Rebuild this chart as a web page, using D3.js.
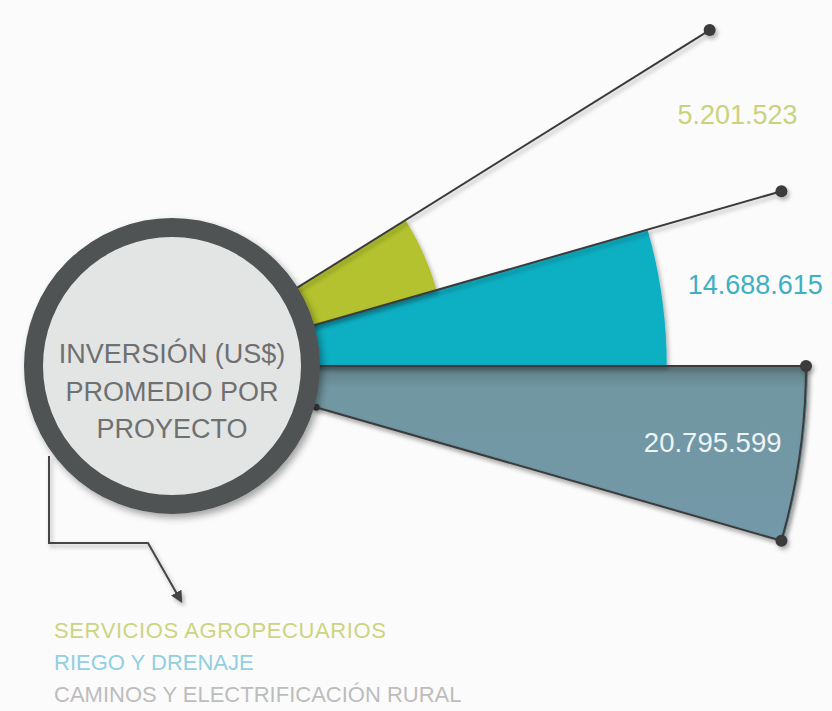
<!DOCTYPE html>
<html>
<head>
<meta charset="utf-8">
<script src="https://cdn.jsdelivr.net/npm/d3@7"></script>
<style>
  html, body { margin: 0; padding: 0; background: #fbfbfb; }
  svg { display: block; }
</style>
</head>
<body>
<svg id="chart" width="832" height="711"></svg>
<script>
// ---------------- data ----------------
const categories = ["SERVICIOS AGROPECUARIOS", "RIEGO Y DRENAJE", "CAMINOS Y ELECTRIFICACIÓN RURAL"];
const values = [5201523, 14688615, 20795599];
const valueLabels = ["5.201.523", "14.688.615", "20.795.599"];
const centerTitle = ["INVERSIÓN (US$)", "PROMEDIO POR", "PROYECTO"];

// ---------------- styles / layout ----------------
const wedgeColors = ["#b3c22f", "#10afc3", "#7298a6"];
const labelColors = ["#cbd27e", "#3db0c2", "#eef3f4"];
const legendColors = ["#cdd481", "#92cfe0", "#bdbdbd"];
const labelSizes = [27, 27, 27.5];
const labelRadii = [619, 589, 546];
const legendSpacing = [0.6, 0, 0];

const W = 832, H = 711;
const cx = 172, cy = 366;
const circleOuter = 148, ringWidth = 19;
const deg = Math.PI / 180;

const svg = d3.select("#chart");
svg.append("rect").attr("width", W).attr("height", H).attr("fill", "#fbfbfb");

const defs = svg.append("defs");
const sh = defs.append("filter").attr("id", "shadow")
  .attr("x", "-20%").attr("y", "-20%").attr("width", "140%").attr("height", "140%");
sh.append("feDropShadow").attr("dx", 3).attr("dy", 4).attr("stdDeviation", 3.5)
  .attr("flood-color", "#000").attr("flood-opacity", 0.35);
const shSoft = defs.append("filter").attr("id", "shadowSoft")
  .attr("x", "-20%").attr("y", "-20%").attr("width", "140%").attr("height", "140%");
shSoft.append("feDropShadow").attr("dx", 2).attr("dy", 3).attr("stdDeviation", 2)
  .attr("flood-color", "#000").attr("flood-opacity", 0.3);

const grad = defs.append("linearGradient").attr("id", "grayGrad")
  .attr("x1", 0).attr("y1", 0).attr("x2", 0).attr("y2", 1);
grad.append("stop").attr("offset", "0%").attr("stop-color", "#5e7b82");
grad.append("stop").attr("offset", "12%").attr("stop-color", "#7197a2");
grad.append("stop").attr("offset", "100%").attr("stop-color", "#7399a9");

defs.append("marker").attr("id", "arrow")
  .attr("viewBox", "0 0 10 10").attr("refX", 8).attr("refY", 5)
  .attr("markerWidth", 6).attr("markerHeight", 6).attr("orient", "auto")
  .append("path").attr("d", "M0,0 L10,5 L0,10 Z").attr("fill", "#444");

// ---------------- scales ----------------
// angles in d3 convention (0 = 12 o'clock, clockwise); horizontal right = PI/2
const angle = d3.scaleBand()
  .domain(categories)
  .range([Math.PI / 2 - 32 * deg, Math.PI / 2 + 16 * deg])
  .padding(0);
const rScale = d3.scaleLinear().domain([0, d3.max(values)]).range([155, 636]);
const rLine = 634;

const polar = (a, r) => [cx + r * Math.sin(a), cy - r * Math.cos(a)];

const g = svg.append("g");

// ---------------- wedges ----------------
const arc = d3.arc();
const wedgeData = categories.map((c, i) => ({
  c, i, v: values[i],
  a0: angle(c), a1: angle(c) + angle.bandwidth()
}));

g.selectAll("path.wedge")
  .data(wedgeData.slice().reverse())
  .join("path")
  .attr("class", "wedge")
  .attr("transform", `translate(${cx},${cy})`)
  .attr("d", d => arc({ innerRadius: 0, outerRadius: rScale(d.v), startAngle: d.a0, endAngle: d.a1 }))
  .attr("fill", d => d.i === 2 ? "url(#grayGrad)" : wedgeColors[d.i])
  .attr("filter", "url(#shadowSoft)");

// ---------------- lines & dots ----------------
const lineG = g.append("g").attr("filter", "url(#shadowSoft)");
const boundaryAngles = [wedgeData[0].a0, wedgeData[1].a0, wedgeData[2].a0, wedgeData[2].a1];
boundaryAngles.forEach(a => {
  const p0 = polar(a, circleOuter - 4), p1 = polar(a, rLine);
  lineG.append("line")
    .attr("x1", p0[0]).attr("y1", p0[1]).attr("x2", p1[0]).attr("y2", p1[1])
    .attr("stroke", "#3b3b3b").attr("stroke-width", 2);
});
lineG.append("path")
  .attr("transform", `translate(${cx},${cy})`)
  .attr("d", d3.arc()({ innerRadius: rLine - 1, outerRadius: rLine + 1,
                        startAngle: wedgeData[2].a0, endAngle: wedgeData[2].a1 }))
  .attr("fill", "#3b3b3b");
boundaryAngles.forEach(a => {
  const p = polar(a, rLine);
  lineG.append("circle").attr("cx", p[0]).attr("cy", p[1]).attr("r", 6).attr("fill", "#3a3a3a");
});
{
  const p = polar(wedgeData[2].a1, circleOuter + 2);
  lineG.append("circle").attr("cx", p[0]).attr("cy", p[1]).attr("r", 3.5).attr("fill", "#3a3a3a");
}

// ---------------- connector arrow ----------------
svg.append("path")
  .attr("d", `M${cx - 123},${cy + 90} V${cy + 177} H${cx - 24} L${cx + 9},${cy + 235}`)
  .attr("fill", "none").attr("stroke", "#444").attr("stroke-width", 2)
  .attr("marker-end", "url(#arrow)")
  .attr("filter", "url(#shadowSoft)");

// ---------------- central circle ----------------
svg.append("circle")
  .attr("cx", cx).attr("cy", cy).attr("r", circleOuter - ringWidth / 2)
  .attr("fill", "#e3e5e5").attr("stroke", "#4f5253").attr("stroke-width", ringWidth)
  .attr("filter", "url(#shadow)");

svg.append("g").selectAll("text")
  .data(centerTitle)
  .join("text")
  .attr("x", cx).attr("y", (d, i) => cy - 3 + i * 37.5)
  .attr("text-anchor", "middle")
  .attr("font-family", "'Liberation Sans', Arial, sans-serif")
  .attr("font-size", 27)
  .attr("fill", "#6f7070")
  .text(d => d);

// ---------------- value labels ----------------
svg.append("g").selectAll("text")
  .data(wedgeData)
  .join("text")
  .attr("x", d => polar((d.a0 + d.a1) / 2, labelRadii[d.i])[0])
  .attr("y", d => polar((d.a0 + d.a1) / 2, labelRadii[d.i])[1] + labelSizes[d.i] * 0.36)
  .attr("text-anchor", "middle")
  .attr("font-family", "'Liberation Sans', Arial, sans-serif")
  .attr("font-size", d => labelSizes[d.i])
  .attr("fill", d => labelColors[d.i])
  .text(d => valueLabels[d.i]);

// ---------------- legend ----------------
svg.append("g").selectAll("text")
  .data(categories)
  .join("text")
  .attr("x", 54).attr("y", (d, i) => 638 + i * 32)
  .attr("font-family", "'Liberation Sans', Arial, sans-serif")
  .attr("font-size", 22)
  .attr("letter-spacing", (d, i) => legendSpacing[i])
  .attr("fill", (d, i) => legendColors[i])
  .text(d => d);
</script>
</body>
</html>
